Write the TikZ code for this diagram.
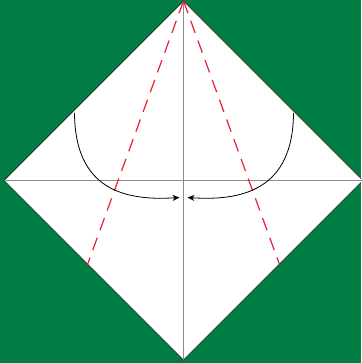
\documentclass[tikz,border=0pt]{standalone}
\usetikzlibrary{arrows.meta}
\definecolor{bggreen}{RGB}{0,125,66}
\definecolor{creasegray}{RGB}{140,140,140}
\definecolor{valleyred}{RGB}{235,30,50}
\tikzset{
  paper/.style={fill=white,draw=black,line width=0.6pt},
  crease/.style={draw=creasegray,line width=0.9pt},
  valley/.style={draw=valleyred,line width=1.2pt,dash pattern=on 13pt off 8pt},
  foldarrow/.style={draw=black,line width=0.8pt,-{Stealth[length=7pt,width=6pt]}}
}
\begin{document}
\begin{tikzpicture}[x=1pt,y=-1pt]
\fill[bggreen] (0,0) rectangle (361,363);
\useasboundingbox (0,0) rectangle (361,363);
\coordinate (T) at (183.5,1);
\coordinate (L) at (4,180.5);
\coordinate (R) at (363,180.5);
\coordinate (B) at (183.5,360);
\coordinate (C) at (183.5,180.5);
\begin{scope}
\clip (0,0) rectangle (361,363);
\path[paper] (T) -- (R) -- (B) -- (L) -- cycle;
\end{scope}
\draw[crease] (L) -- (R);
\draw[crease] (T) -- (B);
\coordinate (RL) at (87.5,264.5);
\coordinate (RR) at (279.5,264.5);
\draw[valley] (T) -- (RL);
\draw[valley] (T) -- (RR);
\coordinate (A1s) at (74.5,113);
\coordinate (A1e) at (179.5,197.5);
\coordinate (A2s) at (293.5,113);
\coordinate (A2e) at (187.5,197.5);
\draw[foldarrow] (A1s) .. controls (75,190) and (125,201) .. (A1e);
\draw[foldarrow] (A2s) .. controls (293,190) and (242,201) .. (A2e);
\end{tikzpicture}
\end{document}
